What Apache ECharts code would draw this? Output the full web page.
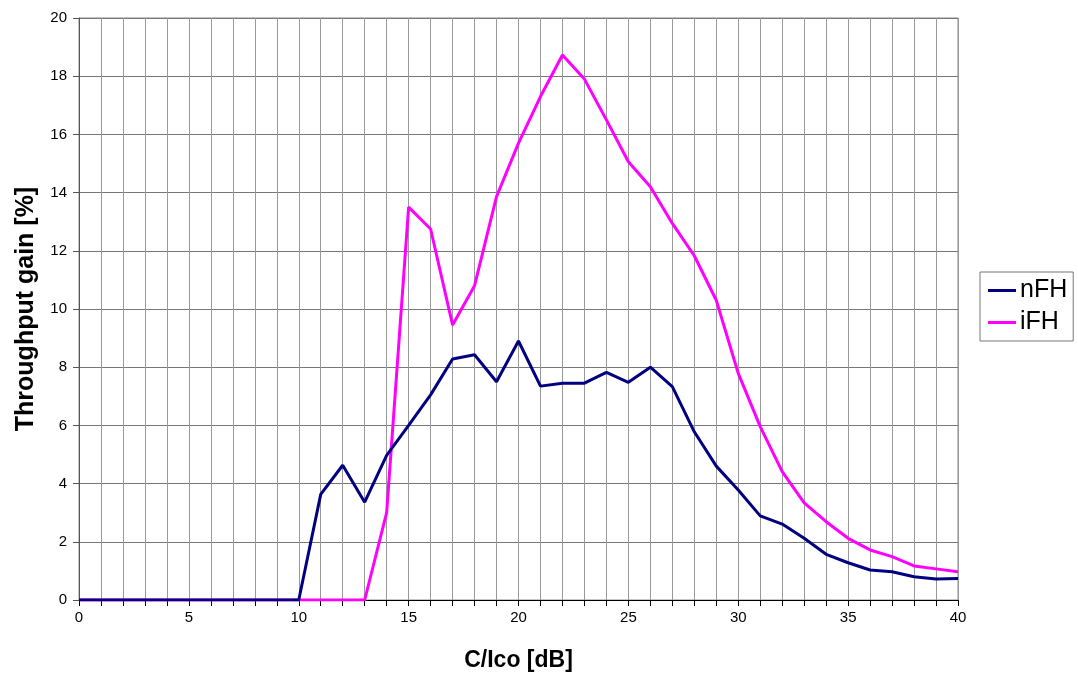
<!DOCTYPE html>
<html>
<head>
<meta charset="utf-8">
<script src="https://cdn.jsdelivr.net/npm/echarts@6/dist/echarts.min.js"></script>
<style>html,body{margin:0;padding:0;background:#fff;}#c{width:1078px;height:679px;}</style>
</head>
<body>
<div id="c"></div>
<script>
const xValues = [0,1,2,3,4,5,6,7,8,9,10,11,12,13,14,15,16,17,18,19,20,21,22,23,24,25,26,27,28,29,30,31,32,33,34,35,36,37,38,39,40];
const nFH = [0,0,0,0,0,0,0,0,0,0,0,3.63,4.63,3.36,4.97,6.0,7.05,8.28,8.43,7.5,8.9,7.35,7.45,7.45,7.82,7.48,8.0,7.33,5.78,4.6,3.78,2.89,2.61,2.12,1.57,1.28,1.03,0.97,0.8,0.72,0.74];
const iFH = [0,0,0,0,0,0,0,0,0,0,0,0,0,0,3.0,13.5,12.75,9.45,10.8,13.86,15.7,17.3,18.73,17.9,16.5,15.06,14.2,12.94,11.83,10.3,7.79,5.96,4.41,3.34,2.69,2.12,1.72,1.49,1.17,1.07,0.97];
const seriesNames = ['nFH','iFH'];
const xLabelStep = 5;

const chart = echarts.init(document.getElementById('c'), null, {renderer:'canvas'});
const font = 'Liberation Sans, Arial, sans-serif';
chart.setOption({
  animation:false,
  backgroundColor:'#fff',
  grid:{left:79,right:120,top:18,bottom:79,show:true,borderColor:'#8a8a8a',borderWidth:1},
  legend:{
    orient:'vertical',left:980,top:272,
    padding:[6,6,6,8],
    borderColor:'#777',borderWidth:1,backgroundColor:'#fff',
    itemWidth:28,itemHeight:3,itemGap:7,
    textStyle:{fontFamily:font,fontSize:25,color:'#000',padding:[0,0,0,-1]},
    data:[{name:seriesNames[0],icon:'rect'},{name:seriesNames[1],icon:'rect'}]
  },
  xAxis:{
    type:'value',min:0,max:40,interval:1,
    name:'C/Ico [dB]',nameLocation:'middle',nameGap:49,
    nameTextStyle:{fontFamily:font,fontSize:23,fontWeight:'bold',color:'#000'},
    axisLine:{lineStyle:{color:'#000',width:1}},
    axisTick:{show:true,inside:false,length:6,lineStyle:{color:'#000'}},
    axisLabel:{fontFamily:font,fontSize:15,color:'#000',margin:10,
      formatter:v=> (v % xLabelStep === 0 ? String(v) : '')},
    splitLine:{show:true,lineStyle:{color:'#999',width:1}}
  },
  yAxis:{
    type:'value',min:0,max:20,interval:2,
    name:'Throughput gain [%]',nameLocation:'middle',nameGap:40,
    nameTextStyle:{fontFamily:font,fontSize:25,fontWeight:'bold',color:'#000'},
    axisLine:{show:true,lineStyle:{color:'#555',width:1}},
    axisTick:{show:true,inside:false,length:6,lineStyle:{color:'#555'}},
    axisLabel:{fontFamily:font,fontSize:15,color:'#000',margin:12},
    splitLine:{show:true,lineStyle:{color:'#777',width:1}}
  },
  series:[
    {name:seriesNames[0],type:'line',data:xValues.map((x,i)=>[x,nFH[i]]),symbol:'none',
     lineStyle:{color:'#000080',width:3},itemStyle:{color:'#000080'},z:3},
    {name:seriesNames[1],type:'line',data:xValues.map((x,i)=>[x,iFH[i]]),symbol:'none',
     lineStyle:{color:'#FF00FF',width:3},itemStyle:{color:'#FF00FF'},z:2}
  ]
});
</script>
</body>
</html>
